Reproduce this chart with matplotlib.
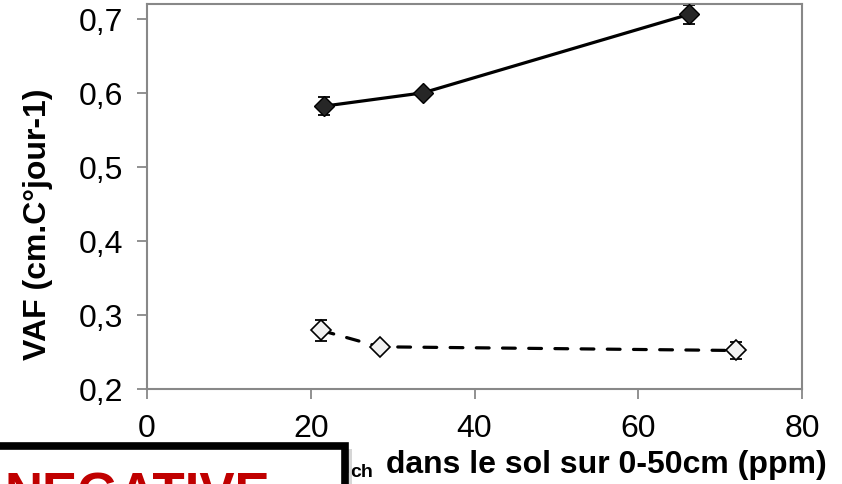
import matplotlib.pyplot as plt
from matplotlib.patches import Rectangle
from matplotlib.ticker import FuncFormatter

plt.rcParams['font.family'] = ['Liberation Sans', 'DejaVu Sans']

# series 1 (filled diamonds, solid line)
x1 = [21.6, 33.7, 66.2]
y1 = [0.582, 0.600, 0.706]
e1 = [0.012, 0.004, 0.013]

# series 2 (open diamonds, dashed line)
x2 = [21.3, 28.4, 71.9]
y2 = [0.279, 0.257, 0.252]
e2 = [0.014, 0.0, 0.012]

xticks = [0, 20, 40, 60, 80]
yticks = [0.2, 0.3, 0.4, 0.5, 0.6, 0.7]

fig = plt.figure(figsize=(8.42, 4.85), dpi=100)
ax = fig.add_axes([0.1746, 0.1959, 0.9525 - 0.1746, 0.9897 - 0.1959])

gray = '#888888'

ax.errorbar(x1, y1, yerr=e1, fmt='none', ecolor='black', elinewidth=1.3,
            capsize=4, capthick=1.3, zorder=2)
ax.plot(x1, y1, color='black', lw=2.3, marker='D', markersize=10,
        markerfacecolor='#262626', markeredgecolor='black', markeredgewidth=1,
        zorder=3)

ax.errorbar(x2, y2, yerr=e2, fmt='none', ecolor='black', elinewidth=1.3,
            capsize=4, capthick=1.3, zorder=2)
ax.plot(x2, y2, color='black', lw=2.3, ls=(0, (4.0, 4.2)),
        dash_capstyle='round', marker='D', markersize=10,
        markerfacecolor='#F2F2F2', markeredgecolor='black',
        markeredgewidth=1.2, zorder=3)

ax.set_xlim(0, 80)
ax.set_ylim(0.2, 0.72)
ax.set_xticks(xticks)
ax.set_yticks(yticks)
ax.yaxis.set_major_formatter(FuncFormatter(lambda v, p: f'{v:.1f}'.replace('.', ',')))

for s in ax.spines.values():
    s.set_color(gray)
    s.set_linewidth(1.5)

ax.tick_params(axis='both', direction='out', length=7, width=1.3, color=gray,
               labelsize=23)
ax.tick_params(axis='y', pad=10)
ax.tick_params(axis='x', pad=10)

ax.set_ylabel('VAF (cm.C°jour-1)', fontsize=23, fontweight='bold')
ax.yaxis.set_label_coords(-0.144, 0.43)

# x axis title (left part hidden behind the overlay box)
fig.text(827 / 842, (485 - 473) / 485, 'dans le sol sur 0-50cm (ppm)',
         fontsize=23, fontweight='bold', ha='right', va='baseline')
fig.text(373 / 842, (485 - 477) / 485, 'ch', fontsize=14, fontweight='bold',
         ha='right', va='baseline')
fig.text(350 / 842, (485 - 473) / 485, 'P Olsen', fontsize=23,
         fontweight='bold', ha='right', va='baseline')

# overlay box with shadow
fig.patches.append(Rectangle((-10 / 842, -0.1), 362 / 842, (485 - 450) / 485 + 0.1,
                             transform=fig.transFigure, facecolor='#bbbbbb',
                             edgecolor='none', alpha=0.6, zorder=9))
fig.patches.append(Rectangle((-20 / 842, -0.1), 365 / 842, (485 - 447) / 485 + 0.1,
                             transform=fig.transFigure, facecolor='white',
                             edgecolor='black', linewidth=5.5, zorder=10))
fig.text(5 / 842, (485 - 511) / 485, 'NEGATIVE', fontsize=38, fontweight='bold',
         color='#C00000', ha='left', va='baseline', zorder=11)

fig.savefig('out.png', dpi=100)
